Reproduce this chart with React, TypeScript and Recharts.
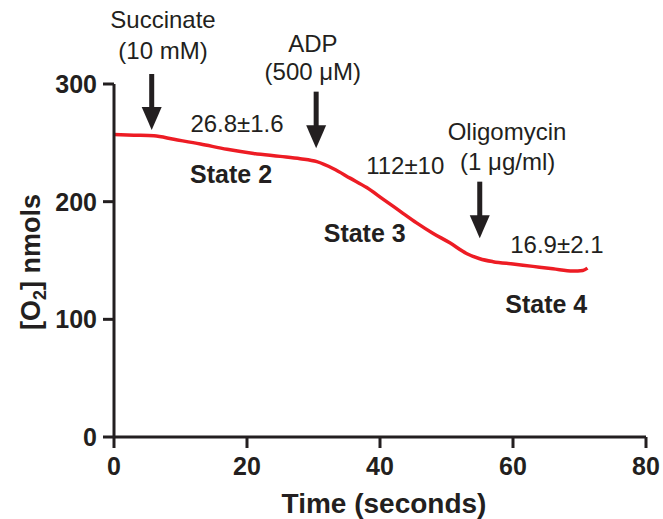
import React from 'react';
import { LineChart, Line, XAxis, YAxis, ReferenceDot, ReferenceLine } from 'recharts';

const timeSec = [0, 3, 6, 9, 13, 17, 21, 25, 28, 30.5, 33, 35.5, 38, 40.5, 43, 45.5, 48, 50.5, 53, 55, 57, 60, 63, 66, 69, 70.5, 71.2];
const o2Nmol = [257, 256.5, 256, 253, 249, 244.5, 241, 238.5, 236.5, 234, 228, 220, 212, 202, 192, 182, 173, 165, 156, 151.5, 149, 147, 145, 143, 141, 141.5, 143.5];

const xTicks = [0, 20, 40, 60, 80];
const yTicks = [0, 100, 200, 300];

const arrowX = [5.67, 30.4, 55.0];
const arrowTop = [308.5, 293.5, 217];
const arrowTip = [260.9, 245.3, 168.9];

const noteText = ['Succinate', '(10 mM)', 'ADP', '(500 \u03bcM)', '26.8\u00b11.6', 'State 2', '112\u00b110', 'Oligomycin', '(1 \u03bcg/ml)', 'State 3', '16.9\u00b12.1', 'State 4'];
const noteX = [7.37, 7.37, 29.9, 29.9, 18.5, 17.6, 43.8, 59.1, 59.2, 37.7, 66.6, 65.0];
const noteY = [347.6, 321.2, 327.2, 303.4, 259.2, 215.9, 223.5, 252.4, 226.9, 165.7, 156.4, 105.4];
const noteBold = [false, false, false, false, false, true, false, false, false, true, false, true];

const lineData = timeSec.map((t, i) => ({ t, o2: o2Nmol[i] }));

const FONT = '"Liberation Sans", Arial, Helvetica, sans-serif';
const INK = '#231f20';

const ArrowShape = (props: any) => {
  const { x1, y1, x2, y2 } = props;
  const x = (x1 + x2) / 2;
  const top = Math.min(y1, y2);
  const tip = Math.max(y1, y2);
  const headH = 23;
  const headW = 10;
  return (
    <g>
      <rect x={x - 2.5} y={top} width={5} height={tip - top - headH + 1} fill={INK} />
      <polygon points={`${x - headW},${tip - headH} ${x + headW},${tip - headH} ${x},${tip}`} fill={INK} />
    </g>
  );
};

const makeNote = (text: string, bold: boolean) => (props: any) => (
  <text
    x={props.cx}
    y={props.cy}
    textAnchor="middle"
    fontFamily={FONT}
    fontSize={bold ? 25 : 24}
    fontWeight={bold ? 'bold' : 'normal'}
    fill={INK}
  >
    {text}
  </text>
);

const XTitle = () => (
  <text x={384} y={513} textAnchor="middle" fontFamily={FONT} fontSize={28} fontWeight="bold" fill={INK}>
    Time (seconds)
  </text>
);

const YTitle = () => (
  <text
    x={40}
    y={262}
    transform="rotate(-90, 40, 262)"
    textAnchor="middle"
    fontFamily={FONT}
    fontSize={27}
    fontWeight="bold"
    fill={INK}
  >
    [O<tspan fontSize={18} dy={6}>2</tspan>
    <tspan dy={-6}>] nmols</tspan>
  </text>
);

export default function App() {
  return (
    <div style={{ position: 'absolute', left: 0, top: 0, background: '#fff' }}>
      <LineChart width={663} height={519} data={lineData} margin={{ top: 84, right: 17, bottom: 0, left: 0 }}>
        <XAxis
          type="number"
          dataKey="t"
          domain={[0, 80]}
          ticks={xTicks}
          interval={0}
          height={82}
          tickSize={11}
          tickMargin={9}
          axisLine={{ stroke: INK, strokeWidth: 3 }}
          tickLine={{ stroke: INK, strokeWidth: 3 }}
          tick={{ fill: INK, fontSize: 25, fontWeight: 'bold', fontFamily: FONT }}
          label={{ content: () => <XTitle /> }}
        />
        <YAxis
          type="number"
          domain={[0, 300]}
          ticks={yTicks}
          interval={0}
          width={114}
          tickSize={11}
          tickMargin={6}
          axisLine={{ stroke: INK, strokeWidth: 3 }}
          tickLine={{ stroke: INK, strokeWidth: 3 }}
          tick={{ fill: INK, fontSize: 25, fontWeight: 'bold', fontFamily: FONT }}
          label={{ content: () => <YTitle /> }}
        />
        <Line
          type="monotone"
          dataKey="o2"
          stroke="#ed1c24"
          strokeWidth={3.5}
          dot={false}
          activeDot={false}
          isAnimationActive={false}
        />
        {arrowX.map((x, i) => (
          <ReferenceLine
            key={`arrow-${i}`}
            segment={[{ x, y: arrowTop[i] }, { x, y: arrowTip[i] }]}
            ifOverflow="visible"
            shape={ArrowShape}
          />
        ))}
        {noteText.map((txt, i) => (
          <ReferenceDot
            key={`note-${i}`}
            x={noteX[i]}
            y={noteY[i]}
            r={1}
            ifOverflow="visible"
            shape={makeNote(txt, noteBold[i])}
          />
        ))}
      </LineChart>
    </div>
  );
}
